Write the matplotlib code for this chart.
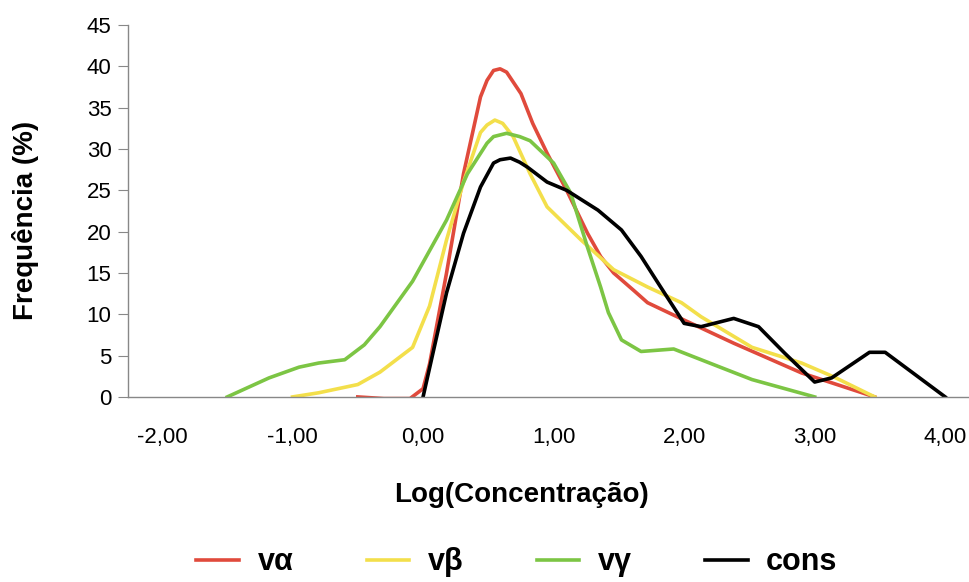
import matplotlib
matplotlib.use('Agg')
import matplotlib.pyplot as plt

plt.rcParams['font.family'] = ['Liberation Sans', 'DejaVu Sans']

# curves (x = Log(Concentração), y = Frequência %)
x_alpha = [-0.5, -0.3, -0.1, 0.0, 0.05, 0.18, 0.31, 0.44, 0.49, 0.54, 0.59, 0.64,
           0.75, 0.84, 0.95, 1.1, 1.26, 1.36, 1.46, 1.62, 1.72, 2.0, 2.38, 2.9, 3.46]
y_alpha = [0.0, -0.2, -0.2, 1.0, 4.0, 15.0, 27.0, 36.3, 38.3, 39.5, 39.7, 39.3,
           36.7, 33.1, 29.5, 25.0, 19.8, 17.0, 15.0, 12.8, 11.4, 9.3, 6.5, 2.9, 0.0]

x_beta = [-1.0, -0.8, -0.5, -0.33, -0.08, 0.05, 0.18, 0.31, 0.44, 0.49, 0.55, 0.61,
          0.69, 0.82, 0.95, 1.21, 1.46, 1.72, 1.98, 2.13, 2.52, 2.9, 3.15, 3.46]
y_beta = [0.0, 0.5, 1.5, 3.0, 6.0, 11.0, 19.0, 26.0, 32.0, 32.9, 33.5, 33.1,
          31.5, 27.0, 23.0, 19.0, 15.4, 13.3, 11.4, 9.7, 6.0, 4.1, 2.4, 0.0]

x_gamma = [-1.5, -1.18, -0.95, -0.8, -0.6, -0.45, -0.33, -0.08, 0.18, 0.34, 0.49, 0.54,
           0.64, 0.74, 0.82, 1.0, 1.13, 1.26, 1.36, 1.42, 1.52, 1.67, 1.92, 2.26, 2.52, 3.0]
y_gamma = [0.0, 2.3, 3.6, 4.1, 4.5, 6.3, 8.5, 14.0, 21.4, 27.0, 30.7, 31.5,
           31.9, 31.5, 31.0, 28.3, 24.7, 18.1, 13.3, 10.2, 6.9, 5.5, 5.8, 3.7, 2.1, 0.0]

x_cons = [0.0, 0.18, 0.31, 0.44, 0.54, 0.59, 0.67, 0.74, 0.8, 0.95, 1.1, 1.34, 1.52,
          1.67, 1.82, 2.0, 2.13, 2.38, 2.57, 2.77, 3.0, 3.13, 3.42, 3.54, 4.0]
y_cons = [0.0, 12.6, 19.8, 25.4, 28.3, 28.7, 28.9, 28.4, 27.8, 26.0, 25.0, 22.6, 20.2,
          17.0, 13.3, 8.9, 8.5, 9.5, 8.5, 5.3, 1.8, 2.3, 5.4, 5.4, 0.0]

x_ticks = [-2, -1, 0, 1, 2, 3, 4]
x_ticklabels = ['-2,00', '-1,00', '0,00', '1,00', '2,00', '3,00', '4,00']
y_ticks = [0, 5, 10, 15, 20, 25, 30, 35, 40, 45]

fig = plt.figure(figsize=(9.7, 5.82), dpi=100)
ax = fig.add_axes([0.132, 0.318, 0.868, 0.639])

lw = 2.6
ax.plot(x_alpha, y_alpha, color='#e04a3c', lw=lw, label='v\u03b1', solid_joinstyle='round')
ax.plot(x_beta, y_beta, color='#f3df4b', lw=lw, label='v\u03b2', solid_joinstyle='round')
ax.plot(x_gamma, y_gamma, color='#7cc544', lw=lw, label='v\u03b3', solid_joinstyle='round')
ax.plot(x_cons, y_cons, color='black', lw=lw, label='cons', solid_joinstyle='round')

ax.set_xlim(-2.26, 4.19)
ax.set_ylim(0, 45)
ax.set_xticks(x_ticks)
ax.set_xticklabels(x_ticklabels)
ax.set_yticks(y_ticks)

for s in ['top', 'right']:
    ax.spines[s].set_visible(False)
for s in ['left', 'bottom']:
    ax.spines[s].set_color('#888888')
    ax.spines[s].set_linewidth(1.0)

ax.tick_params(axis='x', length=0, pad=22, labelsize=16)
ax.tick_params(axis='y', length=7, color='#888888', direction='out', pad=5, labelsize=16)

fig.text(0.538, 0.150, 'Log(Concentração)', ha='center', va='center',
         fontsize=20, fontweight='bold')
fig.text(0.026, 0.622, 'Frequência (%)', ha='center', va='center',
         fontsize=20, fontweight='bold', rotation=90)

fig.legend(loc='center', bbox_to_anchor=(0.533, 0.034), ncol=4, frameon=False,
           handlelength=1.4, handletextpad=0.6, columnspacing=2.4,
           prop={'weight': 'bold', 'size': 22})

fig.savefig('out.png', dpi=100)
